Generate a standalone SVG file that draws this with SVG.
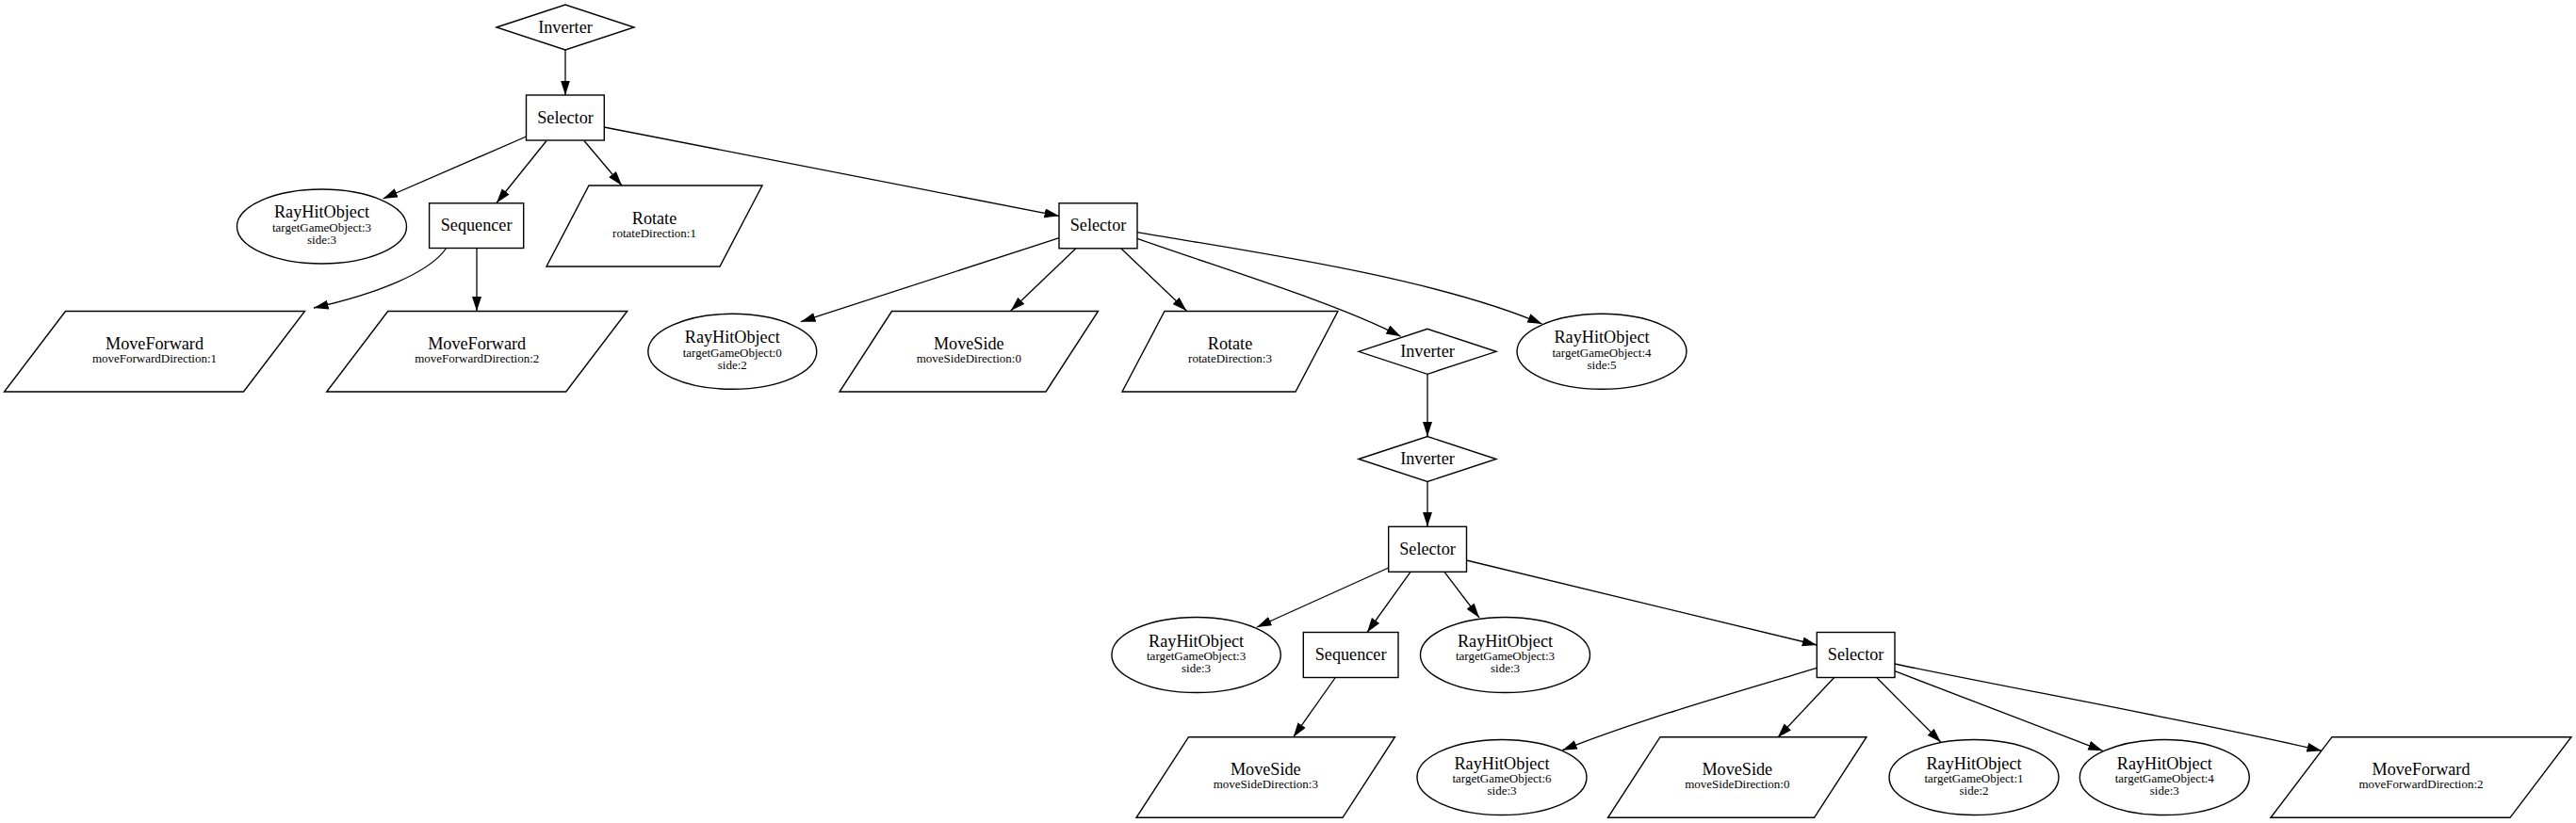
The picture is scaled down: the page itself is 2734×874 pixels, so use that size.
<svg xmlns="http://www.w3.org/2000/svg" width="2734" height="874" viewBox="0 0 2734 874">
<style>
.n{fill:#fff;stroke:#000;stroke-width:1.4}
.t{font-family:"Liberation Serif","Times New Roman",serif;font-size:18.2px;text-anchor:middle;fill:#000}
.s{font-size:13px}
.e{fill:none;stroke:#000;stroke-width:1.3;marker-end:url(#arr)}
</style>
<defs>
<marker id="arr" markerUnits="userSpaceOnUse" markerWidth="16" markerHeight="11" refX="15.5" refY="5" orient="auto">
<path d="M0,0 L15.5,5 L0,10 z" fill="#000"/>
</marker>
</defs>
<rect width="2734" height="874" fill="#fff"/>
<g id="connectors">
<path class="e" d="M600,53 L600,101"/>
<path class="e" d="M558.5,145 L406.5,211"/>
<path class="e" d="M580,149.5 L527,215.5"/>
<path class="e" d="M620,149.5 L660,197"/>
<path class="e" d="M641,135 L1124,229.3"/>
<path class="e" d="M473.3,264 C455,290 400,312 333,327"/>
<path class="e" d="M506,263.5 L506,330.5"/>
<path class="e" d="M1124,252.7 L850,341.7"/>
<path class="e" d="M1141.7,264 L1072.7,330"/>
<path class="e" d="M1190,264 L1259.3,330"/>
<path class="e" d="M1207,253.3 C1290,283 1420,322 1486.7,357.3"/>
<path class="e" d="M1207,246.7 C1320,266 1520,294 1636.7,344"/>
<path class="e" d="M1515,397.3 L1515,463.5"/>
<path class="e" d="M1515,511.5 L1515,559.3"/>
<path class="e" d="M1473.7,603 L1334,666"/>
<path class="e" d="M1497,607.3 L1451,671.5"/>
<path class="e" d="M1533,607.3 L1570,656"/>
<path class="e" d="M1556.4,595 L1928.3,685"/>
<path class="e" d="M1417.3,719.5 L1372.7,782.7"/>
<path class="e" d="M1928.3,709.3 C1850,733 1740,764 1658.3,796.7"/>
<path class="e" d="M1946.7,719.5 L1886.7,783.3"/>
<path class="e" d="M1991.7,719.5 L2060,788.3"/>
<path class="e" d="M2011,712.7 L2231.7,797.3"/>
<path class="e" d="M2011,705 C2120,728 2350,770 2464,797.3"/>
</g>
<g id="n0"><polygon class="n" points="527,29 600,5 673,29 600,53"/><text class="t" x="600" y="34.5">Inverter</text></g>
<g id="n1"><rect class="n" x="558.5" y="101" width="82.8" height="48"/><text class="t" x="600" y="130.5">Selector</text></g>
<g id="n2"><ellipse class="n" cx="341.5" cy="240.5" rx="90" ry="39.5"/><text class="t" x="341.5" y="231">RayHitObject</text><text class="t s" x="341.5" y="245.5">targetGameObject:3</text><text class="t s" x="341.5" y="258.5">side:3</text></g>
<g id="n3"><rect class="n" x="455.6" y="215.8" width="100.1" height="47.7"/><text class="t" x="505.6" y="245.3">Sequencer</text></g>
<g id="n4"><polygon class="n" points="625,197 809,197 764,283 580,283"/><text class="t" x="694.5" y="237.5">Rotate</text><text class="t s" x="694.5" y="251.5">rotateDirection:1</text></g>
<g id="n5"><rect class="n" x="1124" y="215.8" width="83" height="48"/><text class="t" x="1165.5" y="245.3">Selector</text></g>
<g id="n6"><polygon class="n" points="69.5,330.5 323.5,330.5 258.5,416 4.5,416"/><text class="t" x="164" y="370.8">MoveForward</text><text class="t s" x="164" y="384.8">moveForwardDirection:1</text></g>
<g id="n7"><polygon class="n" points="411.7,330.5 665.7,330.5 600.7,416 346.7,416"/><text class="t" x="506.2" y="370.8">MoveForward</text><text class="t s" x="506.2" y="384.8">moveForwardDirection:2</text></g>
<g id="n8"><ellipse class="n" cx="777.3" cy="373.3" rx="89.5" ry="40"/><text class="t" x="777.3" y="364">RayHitObject</text><text class="t s" x="777.3" y="378.5">targetGameObject:0</text><text class="t s" x="777.3" y="391.5">side:2</text></g>
<g id="n9"><polygon class="n" points="946.5,330.5 1165.5,330.5 1110,416 891,416"/><text class="t" x="1028.3" y="370.8">MoveSide</text><text class="t s" x="1028.3" y="384.8">moveSideDirection:0</text></g>
<g id="n10"><polygon class="n" points="1236,330.5 1420,330.5 1375,416 1191,416"/><text class="t" x="1305.5" y="370.8">Rotate</text><text class="t s" x="1305.5" y="384.8">rotateDirection:3</text></g>
<g id="n11"><polygon class="n" points="1442,373.3 1515,349.3 1588,373.3 1515,397.3"/><text class="t" x="1515" y="378.8">Inverter</text></g>
<g id="n12"><ellipse class="n" cx="1700" cy="373.3" rx="90" ry="40"/><text class="t" x="1700" y="364">RayHitObject</text><text class="t s" x="1700" y="378.5">targetGameObject:4</text><text class="t s" x="1700" y="391.5">side:5</text></g>
<g id="n13"><polygon class="n" points="1442,487.5 1515,463.5 1588,487.5 1515,511.5"/><text class="t" x="1515" y="493">Inverter</text></g>
<g id="n14"><rect class="n" x="1473.7" y="559.3" width="82.8" height="48"/><text class="t" x="1515" y="588.8">Selector</text></g>
<g id="n15"><ellipse class="n" cx="1269.6" cy="695.5" rx="89.7" ry="40"/><text class="t" x="1269.6" y="686.5">RayHitObject</text><text class="t s" x="1269.6" y="701">targetGameObject:3</text><text class="t s" x="1269.6" y="714">side:3</text></g>
<g id="n16"><rect class="n" x="1383.3" y="671.5" width="100.7" height="48"/><text class="t" x="1433.6" y="701">Sequencer</text></g>
<g id="n17"><ellipse class="n" cx="1597.5" cy="695.5" rx="90" ry="40"/><text class="t" x="1597.5" y="686.5">RayHitObject</text><text class="t s" x="1597.5" y="701">targetGameObject:3</text><text class="t s" x="1597.5" y="714">side:3</text></g>
<g id="n18"><rect class="n" x="1928.3" y="671.5" width="82.7" height="48"/><text class="t" x="1969.6" y="701">Selector</text></g>
<g id="n19"><polygon class="n" points="1261.5,782.7 1480.5,782.7 1425,868.3 1206,868.3"/><text class="t" x="1343.3" y="823">MoveSide</text><text class="t s" x="1343.3" y="837">moveSideDirection:3</text></g>
<g id="n20"><ellipse class="n" cx="1594" cy="825.5" rx="90" ry="40"/><text class="t" x="1594" y="816.5">RayHitObject</text><text class="t s" x="1594" y="831">targetGameObject:6</text><text class="t s" x="1594" y="844">side:3</text></g>
<g id="n21"><polygon class="n" points="1762,782.7 1981,782.7 1925.5,868.3 1706.5,868.3"/><text class="t" x="1843.8" y="823">MoveSide</text><text class="t s" x="1843.8" y="837">moveSideDirection:0</text></g>
<g id="n22"><ellipse class="n" cx="2095" cy="825.5" rx="90" ry="40"/><text class="t" x="2095" y="816.5">RayHitObject</text><text class="t s" x="2095" y="831">targetGameObject:1</text><text class="t s" x="2095" y="844">side:2</text></g>
<g id="n23"><ellipse class="n" cx="2297.3" cy="825.5" rx="90" ry="40"/><text class="t" x="2297.3" y="816.5">RayHitObject</text><text class="t s" x="2297.3" y="831">targetGameObject:4</text><text class="t s" x="2297.3" y="844">side:3</text></g>
<g id="n24"><polygon class="n" points="2475,782.7 2729,782.7 2664,868.3 2410,868.3"/><text class="t" x="2569.5" y="823">MoveForward</text><text class="t s" x="2569.5" y="837">moveForwardDirection:2</text></g>
</svg>
